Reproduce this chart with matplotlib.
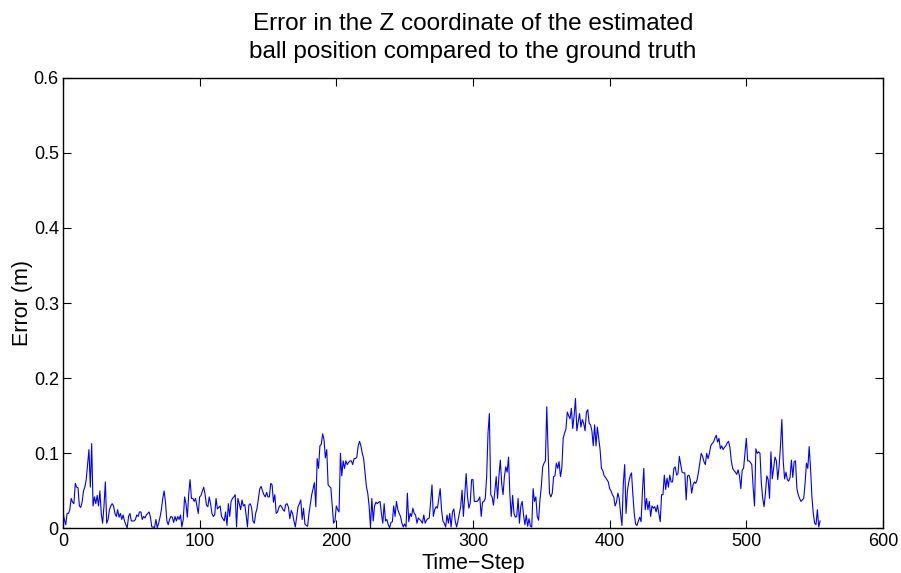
import matplotlib
matplotlib.use("Agg")
import matplotlib.pyplot as plt
from matplotlib.ticker import FuncFormatter

plt.rcParams['font.family'] = ['Liberation Sans', 'DejaVu Sans']

# Z-coordinate error of the estimated ball position, one value per time step (m)
z_error = [
    # 0-74
    0.022, 0.012, 0.005, 0.020, 0.020, 0.025, 0.040, 0.035, 0.033, 0.060,
    0.055, 0.054, 0.030, 0.028, 0.035, 0.050, 0.055, 0.065, 0.085, 0.105,
    0.055, 0.113, 0.030, 0.042, 0.033, 0.044, 0.030, 0.050, 0.020, 0.007,
    0.030, 0.062, 0.007, 0.012, 0.025, 0.030, 0.033, 0.030, 0.020, 0.016,
    0.025, 0.015, 0.020, 0.012, 0.018, 0.010, 0.005, 0.001, 0.016, 0.020,
    0.010, 0.010, 0.010, 0.012, 0.018, 0.016, 0.022, 0.022, 0.012, 0.016,
    0.014, 0.018, 0.020, 0.022, 0.015, 0.002, 0.002, 0.001, 0.012, 0.001,
    0.007, 0.015, 0.025, 0.040, 0.050,
    # 75-151
    0.035, 0.010, 0.005, 0.012, 0.016, 0.015, 0.008, 0.016, 0.010, 0.016,
    0.012, 0.018, 0.002, 0.012, 0.042, 0.033, 0.015, 0.046, 0.065, 0.040,
    0.040, 0.036, 0.040, 0.030, 0.020, 0.042, 0.044, 0.050, 0.055, 0.045,
    0.031, 0.029, 0.042, 0.033, 0.020, 0.016, 0.018, 0.040, 0.026, 0.028,
    0.030, 0.016, 0.013, 0.010, 0.022, 0.004, 0.033, 0.016, 0.036, 0.040,
    0.042, 0.045, 0.002, 0.040, 0.033, 0.025, 0.038, 0.030, 0.032, 0.018,
    0.002, 0.031, 0.033, 0.028, 0.010, 0.007, 0.020, 0.027, 0.040, 0.053,
    0.056, 0.050, 0.045, 0.042, 0.048, 0.042, 0.042,
    # 152-228
    0.060, 0.058, 0.035, 0.045, 0.020, 0.022, 0.028, 0.031, 0.029, 0.025,
    0.023, 0.032, 0.033, 0.028, 0.013, 0.024, 0.020, 0.010, 0.002, 0.015,
    0.029, 0.033, 0.038, 0.012, 0.027, 0.006, 0.004, 0.003, 0.020, 0.033,
    0.045, 0.053, 0.061, 0.029, 0.093, 0.080, 0.110, 0.112, 0.126, 0.118,
    0.094, 0.105, 0.058, 0.056, 0.054, 0.030, 0.007, 0.010, 0.030, 0.025,
    0.022, 0.100, 0.070, 0.090, 0.080, 0.090, 0.085, 0.088, 0.090, 0.090,
    0.085, 0.093, 0.093, 0.095, 0.110, 0.116, 0.110, 0.100, 0.093, 0.074,
    0.056, 0.047, 0.030, 0.001, 0.040, 0.010, 0.030,
    # 229-305
    0.035, 0.033, 0.035, 0.036, 0.020, 0.007, 0.033, 0.010, 0.012, 0.005,
    0.001, 0.008, 0.009, 0.030, 0.016, 0.036, 0.025, 0.020, 0.016, 0.007,
    0.002, 0.006, 0.002, 0.047, 0.009, 0.020, 0.016, 0.027, 0.020, 0.018,
    0.007, 0.014, 0.012, 0.010, 0.007, 0.018, 0.007, 0.011, 0.013, 0.014,
    0.035, 0.058, 0.016, 0.025, 0.029, 0.027, 0.040, 0.053, 0.025, 0.010,
    0.007, 0.002, 0.018, 0.007, 0.020, 0.002, 0.022, 0.026, 0.010, 0.002,
    0.010, 0.020, 0.029, 0.051, 0.016, 0.044, 0.073, 0.043, 0.027, 0.034,
    0.065, 0.065, 0.036, 0.036, 0.036, 0.038, 0.042,
    # 306-381
    0.016, 0.035, 0.036, 0.040, 0.069, 0.127, 0.153, 0.045, 0.042, 0.031,
    0.050, 0.069, 0.040, 0.070, 0.091, 0.060, 0.045, 0.069, 0.082, 0.075,
    0.095, 0.045, 0.016, 0.044, 0.020, 0.015, 0.016, 0.040, 0.007, 0.030,
    0.036, 0.018, 0.005, 0.018, 0.003, 0.013, 0.003, 0.002, 0.053, 0.036,
    0.042, 0.016, 0.011, 0.038, 0.056, 0.082, 0.087, 0.090, 0.162, 0.100,
    0.047, 0.042, 0.047, 0.069, 0.070, 0.087, 0.080, 0.089, 0.069, 0.080,
    0.120, 0.127, 0.132, 0.155, 0.150, 0.146, 0.160, 0.133, 0.150, 0.173,
    0.130, 0.142, 0.153, 0.135, 0.145, 0.140,
    # 382-458
    0.130, 0.155, 0.158, 0.140, 0.138, 0.130, 0.110, 0.138, 0.110, 0.135,
    0.120, 0.105, 0.080, 0.077, 0.070, 0.068, 0.065, 0.062, 0.053, 0.050,
    0.045, 0.042, 0.030, 0.035, 0.047, 0.040, 0.020, 0.004, 0.060, 0.085,
    0.020, 0.050, 0.062, 0.070, 0.074, 0.045, 0.020, 0.006, 0.004, 0.010,
    0.015, 0.009, 0.050, 0.080, 0.025, 0.040, 0.025, 0.036, 0.016, 0.030,
    0.027, 0.029, 0.022, 0.031, 0.020, 0.009, 0.045, 0.045, 0.071, 0.052,
    0.067, 0.055, 0.071, 0.062, 0.062, 0.080, 0.082, 0.071, 0.073, 0.096,
    0.085, 0.075, 0.074, 0.074, 0.038, 0.070, 0.071,
    # 459-554
    0.065, 0.047, 0.058, 0.062, 0.060, 0.065, 0.075, 0.088, 0.100, 0.096,
    0.089, 0.085, 0.100, 0.093, 0.100, 0.110, 0.113, 0.115, 0.120, 0.124,
    0.115, 0.120, 0.106, 0.110, 0.105, 0.108, 0.110, 0.114, 0.116, 0.108,
    0.090, 0.080, 0.077, 0.075, 0.072, 0.078, 0.070, 0.053, 0.078, 0.080,
    0.100, 0.120, 0.090, 0.090, 0.088, 0.085, 0.055, 0.030, 0.106, 0.100,
    0.102, 0.100, 0.060, 0.040, 0.029, 0.047, 0.070, 0.065, 0.040, 0.102,
    0.066, 0.080, 0.095, 0.090, 0.065, 0.083, 0.110, 0.145, 0.090, 0.066,
    0.075, 0.065, 0.063, 0.068, 0.091, 0.068, 0.089, 0.090, 0.053, 0.045,
    0.040, 0.036, 0.038, 0.040, 0.060, 0.087, 0.080, 0.109, 0.080, 0.042,
    0.020, 0.007, 0.005, 0.025, 0.002, 0.010,
]
time_step = list(range(len(z_error)))

x_ticks = [0, 100, 200, 300, 400, 500, 600]
y_ticks = [0, 0.1, 0.2, 0.3, 0.4, 0.5, 0.6]

fig = plt.figure(figsize=(9.01, 5.73), dpi=100)
ax = fig.add_axes([0.0699, 0.0777, 0.9101, 0.7867])

ax.plot(time_step, z_error, color=(0, 0, 1), linewidth=0.8)

ax.set_xlim(0, 600)
ax.set_ylim(0, 0.6)
ax.set_xticks(x_ticks)
ax.set_yticks(y_ticks)
ax.yaxis.set_major_formatter(FuncFormatter(lambda v, p: f"{v:g}"))

ax.tick_params(direction='in', length=6, width=0.8, top=True, right=True,
               labelsize=13, colors='black', pad=3)
for s in ax.spines.values():
    s.set_linewidth(1.0)
    s.set_color('black')

ax.set_xlabel('Time\u2212Step', fontsize=15.5, labelpad=2.5)
ax.set_ylabel('Error (m)', fontsize=15.5, labelpad=0.5)
ax.set_title('Error in the Z coordinate of the estimated\nball position compared to the ground truth',
             fontsize=17.5, pad=14, linespacing=1.35)

fig.savefig('out.png', dpi=100)
